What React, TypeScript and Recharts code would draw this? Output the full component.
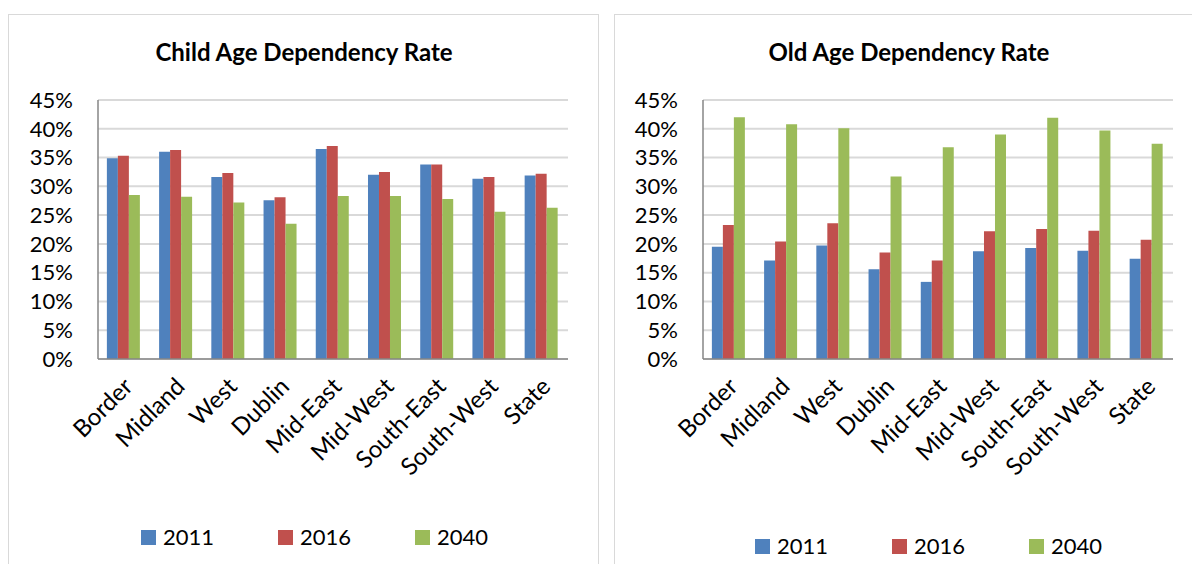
import { FC } from 'react';
import { BarChart, Bar, XAxis, YAxis, CartesianGrid, Legend } from 'recharts';

// regions along the x axis
const regions = ['Border', 'Midland', 'West', 'Dublin', 'Mid-East', 'Mid-West', 'South-East', 'South-West', 'State'];

// child age dependency rate (%)
const child2011 = [34.9, 36.0, 31.6, 27.6, 36.5, 32.0, 33.8, 31.3, 31.9];
const child2016 = [35.3, 36.3, 32.3, 28.1, 37.0, 32.5, 33.8, 31.6, 32.2];
const child2040 = [28.5, 28.2, 27.2, 23.5, 28.3, 28.3, 27.8, 25.6, 26.3];

// old age dependency rate (%)
const old2011 = [19.5, 17.1, 19.7, 15.6, 13.4, 18.7, 19.3, 18.8, 17.4];
const old2016 = [23.3, 20.4, 23.6, 18.5, 17.1, 22.2, 22.6, 22.3, 20.7];
const old2040 = [42.0, 40.8, 40.1, 31.7, 36.8, 39.0, 41.9, 39.7, 37.4];

const yTicks = [0, 5, 10, 15, 20, 25, 30, 35, 40, 45];
const years = ['2011', '2016', '2040'];
const colors = ['#4F81BD', '#C0504D', '#9BBB59'];

const FONT = 'Lato, "Open Sans", sans-serif';

const buildRows = (a: number[], b: number[], c: number[]) =>
  regions.map((name, i) => ({ name, y2011: a[i], y2016: b[i], y2040: c[i] }));

const AngledTick = (props: any) => {
  const { x, y, payload } = props;
  return (
    <g transform={`translate(${x - 2},${y})`}>
      <text textAnchor="end" transform="rotate(-45)" dy={17} fontSize={24} fill="#000" fontFamily={FONT}>
        {payload.value}
      </text>
    </g>
  );
};

const LegendRow = (props: any) => {
  const { payload } = props;
  return (
    <div style={{ display: 'flex', gap: 64, fontFamily: FONT, fontSize: 22, color: '#000' }}>
      {(payload || []).map((p: any) => (
        <div key={p.value} style={{ display: 'flex', alignItems: 'center', gap: 7, height: 20 }}>
          <span style={{ width: 15, height: 15, background: p.color, display: 'inline-block' }} />
          <span style={{ lineHeight: '20px' }}>{p.value}</span>
        </div>
      ))}
    </div>
  );
};

type PanelProps = {
  title: string;
  rows: any[];
  left: number;
  titleCenter: number;
  legendLeft: number;
  legendTop: number;
};

const Panel: FC<PanelProps> = ({ title, rows, left, titleCenter, legendLeft, legendTop }) => {
  return (
    <div style={{ position: 'absolute', left, top: 0, width: 600, height: 564 }}>
      <div
        style={{
          position: 'absolute',
          left: titleCenter - 200,
          width: 400,
          top: 38,
          textAlign: 'center',
          fontFamily: FONT,
          fontWeight: 700,
          fontSize: 24,
          lineHeight: '28px',
          color: '#000',
        }}
      >
        {title}
      </div>
      <BarChart
        width={600}
        height={564}
        data={rows}
        margin={{ top: 100, right: 32, left: 0, bottom: 0 }}
        barCategoryGap="17%"
        barGap={0}
      >
        <CartesianGrid vertical={false} stroke="#d9d9d9" strokeWidth={2} />
        <XAxis
          dataKey="name"
          height={205}
          interval={0}
          tickLine={false}
          tickSize={0}
          tickMargin={17}
          axisLine={{ stroke: '#868686', strokeWidth: 1.5 }}
          tick={<AngledTick />}
        />
        <YAxis
          width={98}
          domain={[0, 45]}
          ticks={yTicks}
          interval={0}
          tickLine={false}
          tickSize={0}
          tickMargin={25}
          axisLine={{ stroke: '#868686', strokeWidth: 1.5 }}
          tickFormatter={(v: number) => `${v}%`}
          tick={{ fontSize: 22, fill: '#000', fontFamily: FONT }}
        />
        <Legend
          layout="vertical"
          align="center"
          verticalAlign="middle"
          content={<LegendRow />}
          wrapperStyle={{ left: legendLeft, top: legendTop, width: 'auto' }}
        />
        <Bar dataKey="y2011" name={years[0]} fill={colors[0]} isAnimationActive={false} />
        <Bar dataKey="y2016" name={years[1]} fill={colors[1]} isAnimationActive={false} />
        <Bar dataKey="y2040" name={years[2]} fill={colors[2]} isAnimationActive={false} />
      </BarChart>
    </div>
  );
};

const App: FC = () => {
  return (
    <div style={{ position: 'fixed', left: 0, top: 0, width: 1192, height: 564, overflow: 'hidden', background: '#fff' }}>
      <div style={{ position: 'absolute', left: 8, top: 14, width: 589, height: 600, border: '1px solid #d9d9d9' }} />
      <div style={{ position: 'absolute', left: 614, top: 14, width: 600, height: 600, border: '1px solid #d9d9d9' }} />
      <Panel
        title="Child Age Dependency Rate"
        rows={buildRows(child2011, child2016, child2040)}
        left={0}
        titleCenter={304}
        legendLeft={141}
        legendTop={527}
      />
      <Panel
        title="Old Age Dependency Rate"
        rows={buildRows(old2011, old2016, old2040)}
        left={605}
        titleCenter={304}
        legendLeft={150}
        legendTop={536}
      />
    </div>
  );
};

export default App;
